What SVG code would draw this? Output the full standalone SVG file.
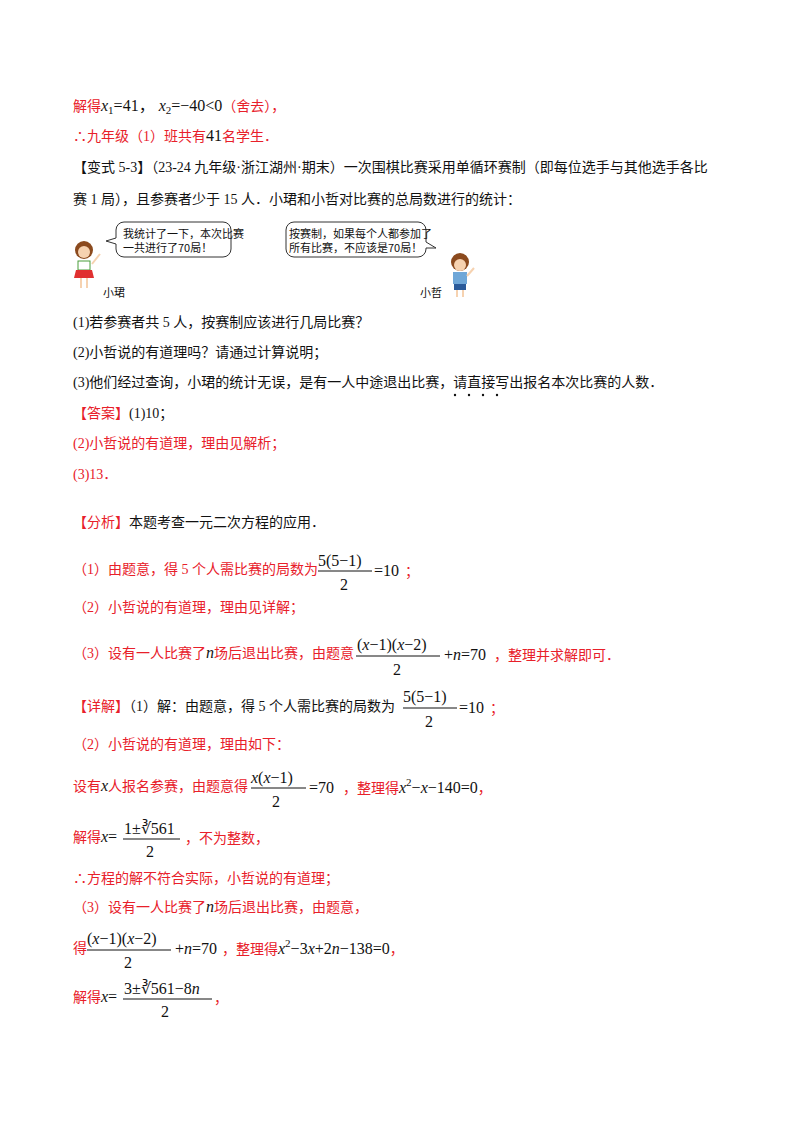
<svg xmlns="http://www.w3.org/2000/svg" width="800" height="1132" viewBox="0 0 800 1132">
<style>
text{font-family:"Liberation Serif","Noto Sans CJK SC",serif;font-size:14px;fill:#111}
.r{fill:#e8202a}
.k{fill:#111}
.m{font-family:"Liberation Serif","Noto Sans CJK SC",serif;font-size:16px}
.i{font-style:italic}
.s{font-size:11px}
.b{font-size:11px;font-family:"Noto Sans CJK SC",serif}
.fl{stroke:#111;stroke-width:1}
</style>
<rect width="800" height="1132" fill="#fff"/>
<text x="73" y="111"><tspan class="r">解得</tspan><tspan class="m i">x</tspan><tspan class="s" dy="3">1</tspan><tspan class="m" dy="-3">=41，  </tspan><tspan class="m i">x</tspan><tspan class="s" dy="3">2</tspan><tspan class="m" dy="-3">=−40&lt;0</tspan><tspan class="r">（舍去），</tspan></text>
<text x="73" y="141" class="r">∴九年级（1）班共有<tspan class="k m">41</tspan>名学生．</text>
<text x="73" y="172">【变式 5-3】（23-24 九年级·浙江湖州·期末）一次围棋比赛采用单循环赛制（即每位选手与其他选手各比</text>
<text x="73" y="204">赛 1 局），且参赛者少于 15 人．小珺和小哲对比赛的总局数进行的统计：</text>
<g id="bubble1">
<path d="M124,222 h99 a8,8 0 0 1 8,8 v19 a8,8 0 0 1 -8,8 h-99 a8,8 0 0 1 -8,-8 v-5 l-10,-3 l10,-3 v-8 a8,8 0 0 1 8,-8z" fill="#fff" stroke="#333" stroke-width="1"/>
<text x="123" y="238" class="b">我统计了一下，本次比赛</text>
<text x="123" y="252" class="b">一共进行了70局！</text>
</g>
<g id="bubble2">
<path d="M294,222 h124 a8,8 0 0 1 8,8 v12 l10,6 l-10,0 v1 a8,8 0 0 1 -8,8 h-124 a8,8 0 0 1 -8,-8 v-19 a8,8 0 0 1 8,-8z" fill="#fff" stroke="#333" stroke-width="1"/>
<text x="289" y="238" class="b">按赛制，如果每个人都参加了</text>
<text x="289" y="252" class="b">所有比赛，不应该是70局！</text>
</g>
<g id="girl">
<circle cx="84" cy="250" r="9" fill="#8b4a1e"/><circle cx="84" cy="252" r="6" fill="#f6d2b0"/>
<rect x="78" y="261" width="12" height="9" fill="#fff" stroke="#4a9e3a"/>
<path d="M76,270 h16 l2,8 h-20z" fill="#e03030"/>
<line x1="81" y1="278" x2="81" y2="288" stroke="#f6d2b0" stroke-width="2"/><line x1="87" y1="278" x2="87" y2="288" stroke="#f6d2b0" stroke-width="2"/>
<line x1="92" y1="264" x2="100" y2="254" stroke="#f6d2b0" stroke-width="2"/>
</g>
<text x="103" y="297" class="b">小珺</text>
<g id="boy">
<circle cx="460" cy="262" r="9" fill="#8b4a1e"/><circle cx="460" cy="265" r="6" fill="#f6d2b0"/>
<rect x="453" y="272" width="14" height="12" fill="#6fa7d8"/>
<rect x="454" y="284" width="12" height="6" fill="#2a5a9a"/>
<line x1="457" y1="290" x2="457" y2="297" stroke="#f6d2b0" stroke-width="2"/><line x1="463" y1="290" x2="463" y2="297" stroke="#f6d2b0" stroke-width="2"/>
<line x1="467" y1="276" x2="474" y2="268" stroke="#f6d2b0" stroke-width="2"/>
</g>
<text x="420" y="297" class="b">小哲</text>
<text x="73" y="327">(1)若参赛者共 5 人，按赛制应该进行几局比赛？</text>
<text x="73" y="357">(2)小哲说的有道理吗？请通过计算说明；</text>
<text x="73" y="387">(3)他们经过查询，小珺的统计无误，是有一人中途退出比赛，请直接写出报名本次比赛的人数．</text>
<g fill="#111"><circle cx="455" cy="395" r="1.2"/><circle cx="469" cy="395" r="1.2"/><circle cx="483" cy="395" r="1.2"/><circle cx="497" cy="395" r="1.2"/></g>
<text x="73" y="418"><tspan class="r">【答案】</tspan>(1)10；</text>
<text x="73" y="448" class="r">(2)小哲说的有道理，理由见解析；</text>
<text x="73" y="479" class="r">(3)13．</text>
<text x="73" y="527"><tspan class="r">【分析】</tspan>本题考查一元二次方程的应用．</text>
<text x="73" y="574" class="r">（1）由题意，得 5 个人需比赛的局数为</text>
<text x="318" y="566" class="m k">5(5−1)</text><line x1="318" y1="571" x2="372" y2="571" class="fl"/><text x="340" y="590" class="m k">2</text><text x="374" y="576" class="m k">=10</text><text x="405" y="576" class="r">；</text>
<text x="73" y="612" class="r">（2）小哲说的有道理，理由见详解；</text>
<text x="73" y="658" class="r">（3）设有一人比赛了<tspan class="k m i">n</tspan>场后退出比赛，由题意</text>
<text x="357" y="650" class="m k">(<tspan class="i">x</tspan>−1)(<tspan class="i">x</tspan>−2)</text><line x1="356" y1="656" x2="440" y2="656" class="fl"/><text x="393" y="675" class="m k">2</text>
<text x="444" y="660" class="m k">+<tspan class="i">n</tspan>=70</text><text x="494" y="660" class="r">，整理并求解即可．</text>
<text x="73" y="711"><tspan class="r">【详解】</tspan>（1）解：由题意，得 5 个人需比赛的局数为</text>
<text x="403" y="702" class="m k">5(5−1)</text><line x1="403" y1="708" x2="457" y2="708" class="fl"/><text x="425" y="727" class="m k">2</text><text x="459" y="713" class="m k">=10</text><text x="490" y="713" class="r">；</text>
<text x="73" y="749" class="r">（2）小哲说的有道理，理由如下：</text>
<text x="73" y="791" class="r">设有<tspan class="k m i">x</tspan>人报名参赛，由题意得</text>
<text x="251" y="783" class="m k i">x<tspan font-style="normal">(</tspan>x<tspan font-style="normal">−1)</tspan></text><line x1="251" y1="788" x2="306" y2="788" class="fl"/><text x="272" y="807" class="m k">2</text>
<text x="309" y="793" class="m k">=70</text><text x="343" y="793" class="r">，整理得<tspan class="k m i">x</tspan><tspan class="k s" dy="-7">2</tspan><tspan class="k m" dy="7">−<tspan class="i">x</tspan>−140=0</tspan>，</text>
<text x="73" y="842" class="r">解得<tspan class="k m i">x</tspan><tspan class="k m">=</tspan></text>
<text x="124" y="834" class="m k">1±∛561</text><line x1="123" y1="839" x2="180" y2="839" class="fl"/><text x="146" y="857" class="m k">2</text>
<text x="185" y="843" class="r">，不为整数，</text>
<text x="73" y="883" class="r">∴方程的解不符合实际，小哲说的有道理；</text>
<text x="73" y="912" class="r">（3）设有一人比赛了<tspan class="k m i">n</tspan>场后退出比赛，由题意，</text>
<text x="73" y="953" class="r">得</text>
<text x="87" y="944" class="m k">(<tspan class="i">x</tspan>−1)(<tspan class="i">x</tspan>−2)</text><line x1="87" y1="950" x2="171" y2="950" class="fl"/><text x="124" y="968" class="m k">2</text>
<text x="175" y="954" class="m k">+<tspan class="i">n</tspan>=70</text><text x="222" y="954" class="r">，整理得<tspan class="k m i">x</tspan><tspan class="k s" dy="-7">2</tspan><tspan class="k m" dy="7">−3<tspan class="i">x</tspan>+2<tspan class="i">n</tspan>−138=0</tspan>，</text>
<text x="73" y="1002" class="r">解得<tspan class="k m i">x</tspan><tspan class="k m">=</tspan></text>
<text x="124" y="994" class="m k">3±∛561−8<tspan class="i">n</tspan></text><line x1="123" y1="999" x2="212" y2="999" class="fl"/><text x="161" y="1017" class="m k">2</text>
<text x="214" y="1003" class="r">，</text>
</svg>
